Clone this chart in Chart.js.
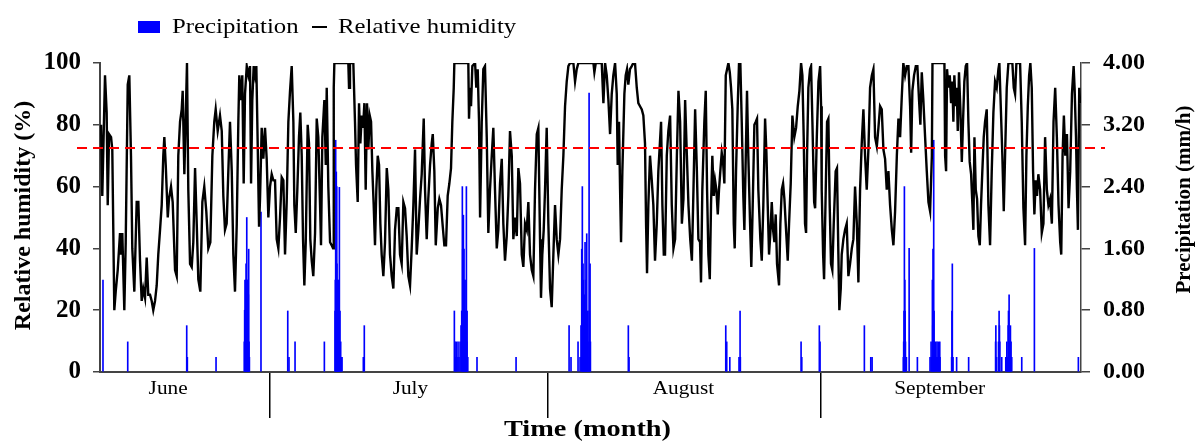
<!DOCTYPE html>
<html>
<head>
<meta charset="utf-8">
<script src="https://cdn.jsdelivr.net/npm/chart.js@4.4.0/dist/chart.umd.min.js"></script>
<style>
  html, body { margin: 0; padding: 0; background: #fff; }
  #wrap { width: 1198px; height: 444px; }
</style>
</head>
<body>
<div id="wrap"><canvas id="rhChart" width="1198" height="444"></canvas></div>
<script>
// x values are days since 11 June (hourly record)
const humidity = [
  [0.46,80],[0.60,57],[0.91,96],[1.10,84],[1.22,54],[1.37,77],[1.60,76],[1.74,72],[1.97,20],[2.13,26],
  [2.36,33],[2.62,45],[2.73,38],[2.88,45],[3.11,20],[3.27,42],[3.50,93],[3.68,96],[3.87,70],[4.02,40],
  [4.25,26],[4.52,55],[4.71,55],[4.90,36],[5.09,23],[5.27,27],[5.47,24],[5.66,37],[5.84,25],[6.04,25],
  [6.23,23],[6.41,20],[6.61,23],[6.80,28],[6.98,38],[7.18,46],[7.37,54],[7.55,70],[7.67,76],[7.83,67],
  [8.06,50],[8.20,56],[8.43,60],[8.62,55],[8.89,33],[9.08,31],[9.26,70],[9.46,81],[9.65,85],[9.76,91],
  [9.95,64],[10.11,83],[10.25,100],[10.40,59],[10.60,35],[10.79,34],[10.97,42],[11.17,66],[11.36,48],[11.54,30],
  [11.77,26],[12.00,55],[12.22,60],[12.45,52],[12.68,40],[12.91,42],[13.14,70],[13.36,81],[13.52,85],[13.75,78],
  [14.01,83],[14.21,78],[14.39,57],[14.58,46],[14.77,48],[14.96,65],[15.15,81],[15.35,65],[15.53,38],[15.72,26],
  [15.92,48],[16.10,81],[16.21,96],[16.41,88],[16.55,96],[16.71,61],[16.86,90],[17.06,99],[17.24,96],[17.43,99],
  [17.55,61],[17.69,88],[17.85,99],[18.00,96],[18.15,99],[18.31,73],[18.46,47],[18.57,56],[18.76,79],[18.95,69],
  [19.14,79],[19.33,69],[19.52,50],[19.71,60],[19.90,64],[20.09,62],[20.28,62],[20.47,43],[20.66,40],[20.85,50],
  [21.04,63],[21.23,62],[21.42,38],[21.61,55],[21.80,81],[21.99,91],[22.18,99],[22.37,81],[22.48,54],[22.64,45],
  [22.82,59],[23.01,76],[23.16,84],[23.32,70],[23.47,43],[23.62,28],[23.78,42],[24.00,80],[24.15,74],[24.30,43],
  [24.46,36],[24.64,31],[24.84,45],[25.03,82],[25.21,76],[25.41,54],[25.52,41],[25.67,76],[25.90,88],[26.06,67],
  [26.17,92],[26.35,60],[26.55,42],[26.74,41],[26.89,40],[26.97,92],[27.04,100],[28.63,100],[28.71,92],[28.82,100],
  [29.20,100],[29.39,81],[29.51,67],[29.70,55],[29.85,87],[30.00,74],[30.16,83],[30.31,79],[30.46,87],[30.61,59],
  [30.76,87],[30.91,72],[31.07,83],[31.22,81],[31.37,65],[31.52,54],[31.67,41],[31.82,59],[31.98,70],[32.13,67],
  [32.28,48],[32.43,38],[32.62,31],[32.81,42],[33.01,66],[33.19,59],[33.38,38],[33.57,31],[33.76,27],[33.95,46],
  [34.15,53],[34.33,53],[34.52,38],[34.71,35],[34.90,55],[35.09,53],[35.28,44],[35.47,31],[35.66,28],[35.85,40],
  [36.04,54],[36.23,72],[36.42,38],[36.61,46],[36.80,56],[36.99,64],[37.22,82],[37.37,59],[37.56,43],[37.74,56],
  [37.94,67],[38.13,74],[38.25,77],[38.43,65],[38.59,41],[38.82,53],[39.00,56],[39.19,54],[39.39,47],[39.57,41],
  [39.76,41],[39.95,57],[40.14,61],[40.33,66],[40.48,81],[40.64,92],[40.71,100],[42.30,100],[42.38,82],[42.50,92],
  [42.61,86],[42.76,99],[43.07,100],[43.21,92],[43.37,98],[43.52,81],[43.64,50],[43.83,81],[44.01,98],[44.20,99],
  [44.40,76],[44.58,45],[44.77,59],[44.97,70],[45.15,79],[45.34,59],[45.54,40],[45.72,46],[45.91,61],[46.11,69],
  [46.29,48],[46.48,36],[46.68,44],[46.86,57],[47.05,78],[47.25,70],[47.43,43],[47.62,50],[47.82,44],[48.00,66],
  [48.19,61],[48.39,38],[48.57,34],[48.76,48],[48.96,46],[49.14,55],[49.33,38],[49.53,33],[49.71,31],[49.90,59],
  [50.10,77],[50.28,79],[50.47,43],[50.58,24],[50.73,38],[50.89,46],[51.04,59],[51.23,79],[51.42,48],[51.61,27],
  [51.80,21],[51.99,38],[52.18,54],[52.37,43],[52.56,38],[52.75,43],[52.94,59],[53.13,70],[53.32,86],[53.51,94],
  [53.70,99],[53.89,100],[54.27,100],[54.46,94],[54.65,98],[54.84,100],[56.55,100],[56.66,97],[56.82,100],[57.50,100],
  [57.69,87],[57.88,100],[58.07,96],[58.26,88],[58.45,77],[58.64,90],[58.82,96],[59.02,100],[59.21,90],[59.32,67],
  [59.47,81],[59.59,59],[59.70,42],[59.85,65],[60.08,90],[60.23,96],[60.38,98],[60.53,93],[60.72,98],[60.92,99],
  [61.10,100],[61.29,100],[61.49,92],[61.67,87],[61.86,86],[62.06,85],[62.24,83],[62.43,74],[62.55,48],[62.66,32],
  [62.81,54],[63.00,70],[63.20,62],[63.38,54],[63.57,36],[63.77,48],[63.95,65],[64.26,81],[64.41,54],[64.57,38],
  [64.71,38],[64.91,70],[65.09,78],[65.29,83],[65.48,54],[65.67,40],[65.86,43],[66.06,70],[66.24,91],[66.43,81],
  [66.63,48],[66.81,56],[67.00,88],[67.20,70],[67.38,54],[67.58,43],[67.77,36],[67.95,59],[68.14,85],[68.34,65],
  [68.51,43],[68.70,42],[68.81,29],[68.96,59],[69.19,81],[69.35,91],[69.50,59],[69.65,38],[69.81,30],[69.95,54],
  [70.10,70],[70.26,57],[70.41,62],[70.56,59],[70.72,51],[70.86,59],[71.01,65],[71.17,71],[71.32,68],[71.47,61],
  [71.63,96],[71.78,98],[71.93,100],[72.09,97],[72.23,92],[72.38,85],[72.54,48],[72.65,40],[72.80,65],[72.99,86],
  [73.14,100],[73.29,100],[73.45,81],[73.63,57],[73.75,46],[73.91,70],[74.05,91],[74.20,70],[74.40,48],[74.54,34],
  [74.70,54],[74.89,80],[75.05,81],[75.19,82],[75.34,59],[75.57,43],[75.73,36],[75.91,54],[76.11,82],[76.26,71],
  [76.41,54],[76.56,38],[76.71,45],[76.87,55],[77.02,46],[77.17,42],[77.32,51],[77.47,35],[77.70,28],[77.85,48],
  [78.01,59],[78.16,61],[78.31,56],[78.46,48],[78.69,36],[78.84,48],[79.03,61],[79.22,83],[79.44,76],[79.64,79],
  [79.83,86],[80.02,91],[80.21,100],[80.36,96],[80.51,76],[80.66,48],[80.78,45],[80.89,70],[81.04,92],[81.23,98],
  [81.35,99],[81.50,81],[81.70,55],[81.81,53],[82.00,76],[82.19,94],[82.38,99],[82.49,86],[82.56,59],[82.72,38],
  [82.83,30],[83.02,59],[83.17,81],[83.32,82],[83.47,54],[83.62,35],[83.77,33],[83.93,48],[84.15,65],[84.30,66],
  [84.46,38],[84.57,20],[84.73,27],[84.84,38],[85.03,43],[85.22,46],[85.41,48],[85.60,31],[85.79,35],[85.99,40],
  [86.17,43],[86.36,60],[86.56,48],[86.74,29],[86.93,59],[87.12,74],[87.31,85],[87.50,70],[87.69,59],[87.88,72],
  [88.07,92],[88.27,96],[88.45,98],[88.64,76],[88.84,73],[89.02,79],[89.21,86],[89.40,85],[89.59,72],[89.78,69],
  [89.97,59],[90.16,65],[90.35,54],[90.55,46],[90.73,41],[90.92,52],[91.12,70],[91.30,82],[91.49,76],[91.68,89],
  [91.86,100],[92.06,96],[92.25,99],[92.44,99],[92.63,86],[92.75,71],[92.89,91],[93.08,96],[93.28,99],[93.46,99],
  [93.65,88],[93.80,80],[93.96,97],[94.14,88],[94.34,76],[94.53,65],[94.72,55],[94.91,52],[95.11,70],[95.18,100],
  [96.54,100],[96.62,70],[96.73,65],[96.84,98],[96.99,92],[97.15,96],[97.30,87],[97.44,94],[97.56,81],[97.67,96],
  [97.83,86],[97.94,92],[98.06,78],[98.20,97],[98.36,85],[98.52,68],[98.66,81],[98.81,94],[98.97,99],[99.12,100],
  [99.27,81],[99.42,68],[99.58,64],[99.73,54],[99.84,46],[99.96,76],[100.11,59],[100.26,56],[100.41,44],[100.57,41],
  [100.71,54],[100.86,65],[101.02,76],[101.17,81],[101.36,85],[101.55,54],[101.74,41],[101.93,65],[102.12,84],[102.31,94],
  [102.50,92],[102.69,98],[102.80,100],[102.96,86],[103.14,70],[103.30,52],[103.45,70],[103.64,92],[103.83,100],[104.28,100],
  [104.44,92],[104.59,90],[104.74,100],[105.16,100],[105.35,81],[105.54,53],[105.73,41],[105.88,70],[106.04,86],[106.19,96],
  [106.33,100],[106.49,92],[106.64,65],[106.79,51],[106.94,62],[107.09,57],[107.24,64],[107.44,59],[107.63,45],[107.82,48],
  [108.01,76],[108.21,59],[108.39,54],[108.58,56],[108.78,48],[108.97,81],[109.16,92],[109.35,76],[109.54,54],[109.73,42],
  [109.85,38],[110.00,70],[110.15,83],[110.31,70],[110.50,77],[110.68,53],[110.87,65],[111.07,90],[111.26,99],[111.37,92],
  [111.53,76],[111.64,59],[111.75,46],[111.90,92],[112.00,87]
];

// hourly precipitation (mm/h), non-zero hours only
const precipitation = [
  [0.68,1.19],[3.50,0.39],[10.22,0.60],[10.29,0.19],[13.56,0.19],
  [16.78,0.39],[16.82,0.80],[16.86,1.19],[16.90,0.60],[16.94,1.19],[16.98,1.40],[17.02,0.79],[17.06,2.00],
  [17.09,1.19],[17.13,0.60],[17.17,1.19],[17.20,0.39],[17.24,1.00],[17.28,1.59],[17.32,0.39],[17.36,0.19],
  [18.68,2.07],[21.73,0.79],[21.87,0.19],[22.56,0.39],[25.90,0.39],
  [27.12,0.79],[27.15,1.19],[27.19,3.00],[27.23,1.19],[27.26,2.59],[27.31,2.40],[27.34,1.40],[27.38,0.79],
  [27.42,1.19],[27.46,0.60],[27.49,1.19],[27.54,0.79],[27.57,0.39],[27.61,2.39],[27.68,0.79],[27.76,0.39],
  [27.84,0.19],[27.91,0.19],[30.34,0.19],[30.45,0.60],
  [40.71,0.79],[40.79,0.39],[40.87,0.19],[40.94,0.39],[41.02,0.19],[41.13,0.39],[41.24,0.19],[41.36,0.39],
  [41.47,0.60],[41.55,0.79],[41.62,2.40],[41.66,1.59],[41.70,1.19],[41.74,2.03],[41.78,0.79],[41.81,1.59],
  [41.85,1.19],[41.89,0.39],[41.93,1.19],[41.97,0.79],[42.01,0.60],[42.05,0.39],[42.08,2.40],[42.12,0.39],
  [42.16,0.79],[42.24,0.19],[43.29,0.19],[47.74,0.19],[53.78,0.60],[54.00,0.19],
  [54.80,0.39],[55.03,0.19],[55.14,0.60],[55.22,1.59],[55.29,2.40],[55.33,0.79],[55.37,1.40],[55.41,1.19],
  [55.45,0.60],[55.48,0.79],[55.56,1.00],[55.60,1.68],[55.64,0.79],[55.68,0.39],[55.71,1.19],[55.79,1.79],
  [55.83,0.60],[55.87,0.19],[55.91,0.79],[55.94,0.39],[56.06,3.61],[56.09,0.79],[56.17,1.40],[56.21,0.39],
  [60.53,0.60],[60.61,0.19],[71.63,0.60],[71.74,0.39],[72.09,0.19],[73.14,0.19],[73.26,0.79],[73.29,0.19],
  [80.21,0.39],[80.29,0.19],[82.29,0.60],[82.37,0.39],[87.42,0.60],[88.15,0.19],[88.30,0.19],
  [91.86,0.19],[91.90,0.39],[91.94,0.79],[91.98,2.40],[92.03,1.19],[92.06,0.79],[92.10,0.39],[92.14,0.19],
  [92.21,0.19],[92.52,1.60],[93.46,0.19],
  [94.90,0.19],[95.02,0.39],[95.10,0.19],[95.17,1.19],[95.21,0.60],[95.24,1.59],[95.32,3.00],[95.36,0.79],
  [95.40,0.39],[95.47,0.19],[95.55,0.39],[95.63,0.19],[95.70,0.39],[95.78,0.19],[95.86,0.39],[95.93,0.19],
  [96.01,0.39],[96.04,0.19],[97.36,0.19],[97.40,0.79],[97.44,1.40],[97.47,0.19],[97.51,0.19],[97.93,0.19],
  [99.30,0.19],[102.37,0.39],[102.40,0.60],[102.48,0.19],[102.70,0.39],[102.77,0.79],[102.81,0.60],[102.85,0.39],
  [103.07,0.19],[103.53,0.19],[103.65,0.39],[103.72,0.19],[103.80,0.60],[103.84,0.79],[103.91,1.00],[103.95,0.39],
  [104.02,0.39],[104.06,0.60],[104.13,0.39],[104.21,0.19],[105.35,0.19],[106.79,1.60],[111.80,0.19]
];

// day range shown on the time axis
const dayMin = 0.34;
const dayMax = 112.1;
const monthNames = ['June', 'July', 'August', 'September'];
const monthCenters = [8.1, 35.7, 66.8, 96.0];
const monthBreaks = [19.7, 51.4, 82.4];
const humidityTicks = [0, 20, 40, 60, 80, 100];
const precipTicks = [0, 0.8, 1.6, 2.4, 3.2, 4.0];
const rhThreshold = 72.5;

const SERIF = '"Liberation Serif", "Times New Roman", serif';

// draw text squeezed/stretched horizontally to match the figure's typeface
function drawText(ctx, text, x, y, font, sx, align) {
    ctx.save();
    ctx.font = font;
    ctx.fillStyle = '#000';
    ctx.textAlign = align || 'center';
    ctx.textBaseline = 'middle';
    ctx.translate(x, y);
    ctx.scale(sx, 1);
    ctx.fillText(text, 0, 0);
    ctx.restore();
}

function drawVertical(ctx, text, x, y, font) {
    ctx.save();
    ctx.font = font;
    ctx.fillStyle = '#000';
    ctx.textAlign = 'center';
    ctx.textBaseline = 'middle';
    ctx.translate(x, y);
    ctx.rotate(-Math.PI / 2);
    ctx.fillText(text, 0, 0);
    ctx.restore();
}

const decorPlugin = {
    id: 'decor',
    afterDatasetsDraw(chart) {
        const { ctx, chartArea, scales } = chart;
        // threshold line, runs a little past both axes
        const yPix = scales.y.getPixelForValue(rhThreshold);
        ctx.save();
        ctx.strokeStyle = '#ff0000';
        ctx.lineWidth = 2;
        ctx.setLineDash([10, 6]);
        ctx.beginPath();
        ctx.moveTo(chartArea.left - 23, yPix);
        ctx.lineTo(chartArea.right + 24, yPix);
        ctx.stroke();
        ctx.restore();
    },
    afterDraw(chart) {
        const { ctx, chartArea, scales } = chart;
        // month names under the axis
        monthNames.forEach((name, i) => {
            drawText(ctx, name, scales.x.getPixelForValue(monthCenters[i]), chartArea.bottom + 17,
                '19px ' + SERIF, 1.12);
        });
        // axis titles
        drawText(ctx, 'Time (month)', (chartArea.left + chartArea.right) / 2 - 3, 430,
            'bold 24px ' + SERIF, 1.18);
        drawVertical(ctx, 'Relative humidity (%)', 24, (chartArea.top + chartArea.bottom) / 2 - 2,
            'bold 24px ' + SERIF);
        drawVertical(ctx, 'Precipitation (mm/h)', 1185, (chartArea.top + chartArea.bottom) / 2 - 18,
            'bold 21px ' + SERIF);

        // legend
        ctx.save();
        ctx.fillStyle = '#0000ff';
        ctx.fillRect(138, 21, 22, 12);
        ctx.strokeStyle = '#000';
        ctx.lineWidth = 2;
        ctx.beginPath();
        ctx.moveTo(312, 27);
        ctx.lineTo(327, 27);
        ctx.stroke();
        ctx.restore();
        drawText(ctx, 'Precipitation', 172, 27, '21px ' + SERIF, 1.18, 'left');
        drawText(ctx, 'Relative humidity', 338, 27, '21px ' + SERIF, 1.18, 'left');
    }
};

const ctx = document.getElementById('rhChart').getContext('2d');
const rhChart = new Chart(ctx, {
    type: 'line',
    data: {
        datasets: [{
            type: 'line',
            label: 'Relative humidity',
            data: humidity.map(([d, v]) => ({ x: d, y: v })),
            borderColor: '#000000',
            borderWidth: 2.4,
            pointRadius: 0,
            tension: 0,
            yAxisID: 'y'
        }, {
            type: 'bar',
            label: 'Precipitation',
            data: precipitation.map(([d, v]) => ({ x: d, y: v })),
            backgroundColor: '#0000ff',
            borderWidth: 0,
            barThickness: 1,
            yAxisID: 'y2'
        }]
    },
    options: {
        responsive: false,
        animation: false,
        events: [],
        layout: { padding: { top: 63, left: 0, right: 0, bottom: 0 } },
        plugins: {
            legend: { display: false },
            tooltip: { enabled: false }
        },
        scales: {
            x: {
                type: 'linear',
                position: 'bottom',
                min: dayMin,
                max: dayMax,
                offset: false,
                afterFit: (s) => { s.height = 72; },
                afterBuildTicks: (s) => { s.ticks = monthBreaks.map(v => ({ value: v })); },
                ticks: { display: false },
                grid: { offset: false, drawOnChartArea: false, drawTicks: true, tickLength: 46, color: '#000', lineWidth: 1.5 },
                border: { color: '#444', width: 2 }
            },
            y: {
                type: 'linear',
                position: 'left',
                min: 0,
                max: 100,
                afterFit: (s) => { s.width = 100; },
                afterBuildTicks: (s) => { s.ticks = humidityTicks.map(v => ({ value: v })); },
                ticks: {
                    color: '#000',
                    padding: 12,
                    font: { family: SERIF, size: 25, weight: 'bold' }
                },
                grid: { drawOnChartArea: false, tickLength: 7, color: '#444', lineWidth: 1.5 },
                border: { color: '#444', width: 2 }
            },
            y2: {
                type: 'linear',
                position: 'right',
                min: 0,
                max: 4,
                afterFit: (s) => { s.width = 117; },
                afterBuildTicks: (s) => { s.ticks = precipTicks.map(v => ({ value: v })); },
                ticks: {
                    color: '#000',
                    padding: 13,
                    font: { family: SERIF, size: 24, weight: 'bold' },
                    callback: (v) => Number(v).toFixed(2)
                },
                grid: { drawOnChartArea: false, tickLength: 9, color: '#444', lineWidth: 1.5 },
                border: { color: '#444', width: 1.5 }
            }
        }
    },
    plugins: [decorPlugin]
});
</script>
</body>
</html>
